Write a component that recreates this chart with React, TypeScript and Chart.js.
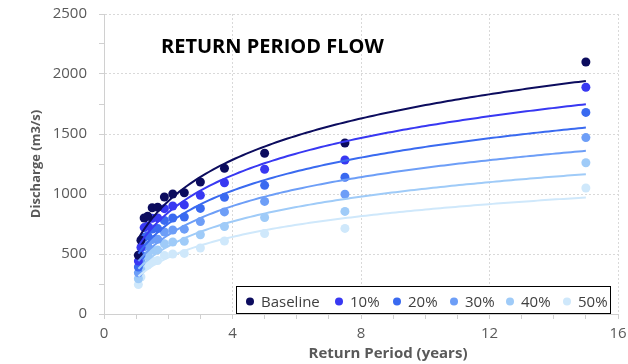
import React, { useEffect, useRef } from "react";
import { Chart, registerables } from "chart.js";

Chart.register(...registerables);

// Return periods (years), Weibull plotting positions for a 14-year record
const returnPeriods = [1.07, 1.15, 1.25, 1.36, 1.5, 1.67, 1.88, 2.14, 2.5, 3, 3.75, 5, 7.5, 15];

// Peak discharge (m3/s) for each scenario
const baseline = [490, 615, 800, 815, 885, 890, 975, 1000, 1010, 1100, 1215, 1340, 1425, 2100];
const pct10 = [441, 554, 720, 734, 797, 801, 878, 900, 909, 990, 1094, 1206, 1283, 1890];
const pct20 = [392, 492, 640, 652, 708, 712, 780, 800, 808, 880, 972, 1072, 1140, 1680];
const pct30 = [343, 431, 560, 571, 620, 623, 683, 700, 707, 770, 851, 938, 998, 1470];
const pct40 = [294, 369, 480, 489, 531, 534, 585, 600, 606, 660, 729, 804, 855, 1260];
const pct50 = [245, 308, 400, 408, 443, 445, 488, 500, 505, 550, 608, 670, 713, 1050];

const seriesLabels = ["Baseline", "10%", "20%", "30%", "40%", "50%"];
const seriesValues = [baseline, pct10, pct20, pct30, pct40, pct50];
const seriesColors = ["#0c0c5e", "#3838f2", "#3a6af0", "#6d9ef7", "#9fcbf8", "#cfe8fb"];

const xTicks = [0, 4, 8, 12, 16];
const yTicks = [0, 500, 1000, 1500, 2000, 2500];

const chartTitle = "RETURN PERIOD FLOW";
const xTitle = "Return Period (years)";
const yTitle = "Discharge (m3/s)";

// Least-squares logarithmic trendline y = a*ln(x) + b
function logFit(xs: number[], ys: number[]) {
  const n = xs.length;
  const lx = xs.map((x) => Math.log(x));
  const mx = lx.reduce((s, v) => s + v, 0) / n;
  const my = ys.reduce((s, v) => s + v, 0) / n;
  let sxx = 0;
  let sxy = 0;
  for (let i = 0; i < n; i++) {
    sxx += (lx[i] - mx) ** 2;
    sxy += (lx[i] - mx) * (ys[i] - my);
  }
  const a = sxy / sxx;
  return { a, b: my - a * mx };
}

function trendPoints(xs: number[], ys: number[]) {
  const { a, b } = logFit(xs, ys);
  const x0 = Math.min(...xs);
  const x1 = Math.max(...xs);
  const steps = 120;
  const pts: { x: number; y: number }[] = [];
  for (let i = 0; i <= steps; i++) {
    const x = x0 + ((x1 - x0) * i) / steps;
    pts.push({ x, y: a * Math.log(x) + b });
  }
  return pts;
}

const FONT = "'Open Sans', 'DejaVu Sans', sans-serif";

// Legend box and marker positions (px)
const legendBox = { left: 236, right: 611, top: 286, bottom: 314 };
const legendDotX = [250, 339, 397, 454, 510, 567];

const overlayPlugin = {
  id: "overlay",
  afterDraw(chart: any) {
    const ctx = chart.ctx as CanvasRenderingContext2D;
    ctx.save();
    // Title inside plot area
    ctx.fillStyle = "#000000";
    ctx.font = `bold 20px ${FONT}`;
    ctx.textAlign = "left";
    ctx.textBaseline = "alphabetic";
    ctx.fillText(chartTitle, 161, 53);

    // X axis title, set slightly right of the plot centre
    ctx.fillStyle = "#595959";
    ctx.font = `bold 15px ${FONT}`;
    ctx.textAlign = "center";
    ctx.textBaseline = "middle";
    ctx.fillText(xTitle, 388, 354);

    // Legend box in the lower right of the plot area
    const { left, right, top, bottom } = legendBox;
    ctx.fillStyle = "#ffffff";
    ctx.fillRect(left, top, right - left, bottom - top);
    ctx.strokeStyle = "#000000";
    ctx.lineWidth = 1;
    ctx.strokeRect(left + 0.5, top + 0.5, right - left - 1, bottom - top - 1);

    ctx.font = `15px ${FONT}`;
    ctx.textAlign = "left";
    ctx.textBaseline = "alphabetic";
    const cy = 301.5;
    seriesLabels.forEach((label, i) => {
      const x = legendDotX[i];
      ctx.fillStyle = seriesColors[i];
      ctx.beginPath();
      ctx.arc(x, cy, 4, 0, Math.PI * 2);
      ctx.fill();
      ctx.fillStyle = "#404040";
      ctx.fillText(label, x + 11, 307);
    });
    ctx.restore();
  },
};

export default function App() {
  const canvasRef = useRef<HTMLCanvasElement | null>(null);

  useEffect(() => {
    if (!canvasRef.current) return;

    const pointSets = seriesValues.map((vals, i) => ({
      type: "scatter" as const,
      label: seriesLabels[i],
      data: vals.map((v, j) => ({ x: returnPeriods[j], y: v })),
      backgroundColor: seriesColors[i],
      borderColor: seriesColors[i],
      pointRadius: 4.5,
      pointBorderWidth: 0,
      showLine: false,
      order: 2,
    }));

    const trendSets = seriesValues.map((vals, i) => ({
      type: "line" as const,
      label: seriesLabels[i] + " trend",
      data: trendPoints(returnPeriods, vals),
      borderColor: seriesColors[i],
      borderWidth: 2,
      pointRadius: 0,
      fill: false,
      tension: 0,
      order: 1,
    }));

    const gridColor = (major: number[]) => (ctx: any) => {
      const v = ctx.tick ? ctx.tick.value : 0;
      return v !== 0 && major.includes(v) ? "#d9d9d9" : "transparent";
    };

    const chart = new Chart(canvasRef.current, {
      type: "scatter",
      data: { datasets: [...pointSets, ...trendSets] as any },
      options: {
        responsive: false,
        animation: false,
        layout: { padding: { top: 14, right: 10, left: 0, bottom: 0 } },
        plugins: {
          legend: { display: false },
          tooltip: { enabled: false },
          title: { display: false },
        },
        scales: {
          x: {
            type: "linear",
            min: 0,
            max: 16,
            afterFit: (scale: any) => {
              scale.height = 50;
              scale.paddingLeft = 0;
              scale.paddingRight = 0;
            },
            ticks: {
              stepSize: 1,
              autoSkip: false,
              maxRotation: 0,
              padding: 6,
              color: "#595959",
              font: { family: FONT, size: 15 },
              callback: (v: any) => (xTicks.includes(Number(v)) ? String(v) : ""),
            },
            grid: {
              color: gridColor(xTicks),
              lineWidth: 1,
              tickColor: "#d0d0d0",
              tickLength: 5,
              borderDash: [2, 2],
            } as any,
            border: { color: "#d0d0d0", width: 1, dash: [2, 2] },
            title: { display: false },
          },
          y: {
            type: "linear",
            min: 0,
            max: 2500,
            afterFit: (scale: any) => {
              scale.width = 104;
              scale.paddingTop = 0;
              scale.paddingBottom = 0;
            },
            ticks: {
              stepSize: 250,
              autoSkip: false,
              padding: 12,
              color: "#595959",
              font: { family: FONT, size: 15 },
              callback: (v: any) => (yTicks.includes(Number(v)) ? String(v) : ""),
            },
            grid: {
              color: gridColor(yTicks),
              lineWidth: 1,
              tickColor: "#d0d0d0",
              tickLength: 5,
              borderDash: [2, 2],
            } as any,
            border: { color: "#d0d0d0", width: 1, dash: [2, 2] },
            title: {
              display: true,
              text: yTitle,
              color: "#595959",
              font: { family: FONT, size: 13, weight: "bold" },
              padding: { top: 28, bottom: 0 },
            },
          },
        },
      },
      plugins: [overlayPlugin],
    });

    return () => chart.destroy();
  }, []);

  return (
    <div style={{ position: "fixed", left: 0, top: 0, width: 628, height: 364, background: "#ffffff" }}>
      <canvas ref={canvasRef} width={628} height={364} style={{ display: "block" }} />
    </div>
  );
}
